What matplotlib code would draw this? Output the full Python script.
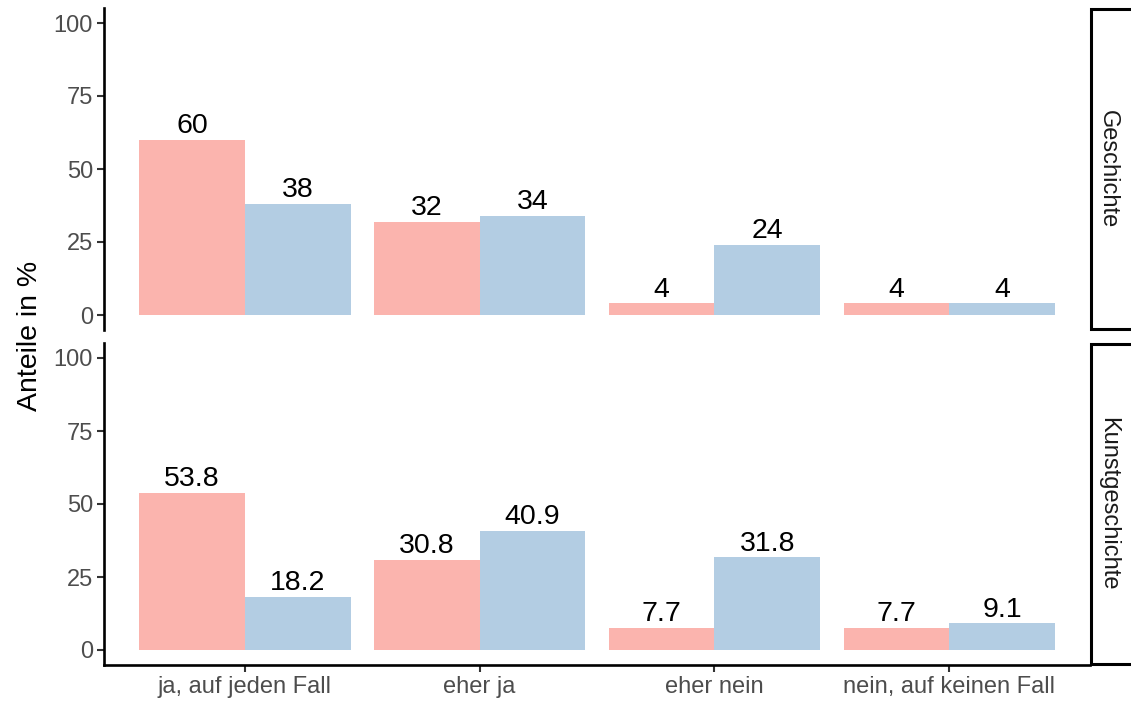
import matplotlib
matplotlib.use("Agg")
import matplotlib.pyplot as plt
from matplotlib.patches import Rectangle

plt.rcParams['font.family'] = ['Liberation Sans', 'DejaVu Sans']

categories = ["ja, auf jeden Fall", "eher ja", "eher nein", "nein, auf keinen Fall"]
facets = ["Geschichte", "Kunstgeschichte"]
group_a = {"Geschichte": [60, 32, 4, 4], "Kunstgeschichte": [53.8, 30.8, 7.7, 7.7]}
group_b = {"Geschichte": [38, 34, 24, 4], "Kunstgeschichte": [18.2, 40.9, 31.8, 9.1]}
yticks = [0, 25, 50, 75, 100]

col_a = "#FBB4AE"
col_b = "#B3CDE3"
tick_col = "#4D4D4D"

W, H = 1131, 704
fig = plt.figure(figsize=(W / 100, H / 100), dpi=100)

def fig_rect(left, top, right, bottom):
    return [left / W, 1 - bottom / H, (right - left) / W, (bottom - top) / H]

panels = [(8.4, 329.6), (343.4, 664.6)]
left_px, right_px = 104, 1090
bw = 0.45
x = list(range(len(categories)))

for i, (facet, (top, bot)) in enumerate(zip(facets, panels)):
    ax = fig.add_axes(fig_rect(left_px, top, right_px, bot))
    a = group_a[facet]
    b = group_b[facet]
    ax.bar([xi - bw / 2 for xi in x], a, width=bw, color=col_a, linewidth=0)
    ax.bar([xi + bw / 2 for xi in x], b, width=bw, color=col_b, linewidth=0)
    for xi, v in zip(x, a):
        ax.text(xi - bw / 2, v + 0.2, f"{v:g}", ha="center", va="bottom", fontsize=20.5, color="black")
    for xi, v in zip(x, b):
        ax.text(xi + bw / 2, v + 0.2, f"{v:g}", ha="center", va="bottom", fontsize=20.5, color="black")
    ax.set_xlim(-0.6, len(categories) - 0.4)
    ax.set_ylim(-5, 105)
    ax.set_yticks(yticks)
    ax.set_yticklabels([str(t) for t in yticks], fontsize=17, color=tick_col)
    for s in ["top", "right"]:
        ax.spines[s].set_visible(False)
    ax.spines["left"].set_linewidth(1.9)
    ax.spines["left"].set_color("black")
    ax.tick_params(axis="y", length=5, width=1.5, color="#333333", pad=3)
    if i == 0:
        ax.spines["bottom"].set_visible(False)
        ax.set_xticks([])
    else:
        ax.spines["bottom"].set_linewidth(1.9)
        ax.spines["bottom"].set_color("black")
        ax.set_xticks(x)
        ax.set_xticklabels(categories, fontsize=17, color=tick_col)
        ax.tick_params(axis="x", length=5, width=1.5, color="#333333", pad=3)
    ax.set_facecolor("white")
    # strip
    sx0 = 1091
    rect = Rectangle(((sx0) / W, 1 - (bot - 1) / H), (W + 20 - sx0) / W, (bot - top - 2) / H,
                     transform=fig.transFigure, facecolor="white", edgecolor="black",
                     linewidth=2.2, clip_on=False)
    fig.patches.append(rect)
    fig.text(1108 / W, 1 - ((top + bot) / 2) / H, facet, rotation=-90, ha="center", va="center",
             fontsize=17, color="#1A1A1A")

fig.text(30 / W, 1 - 336 / H, "Anteile in %", rotation=90, ha="center", va="center",
         fontsize=20.5, color="black")

fig.savefig("out.png", dpi=100, facecolor="white")
